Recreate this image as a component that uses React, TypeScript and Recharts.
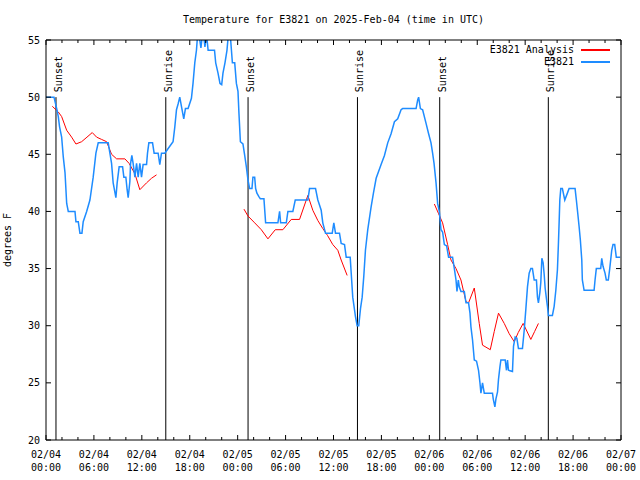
import React from 'react';
import { LineChart, Line, XAxis, YAxis, ReferenceLine, Legend } from 'recharts';

const FONT = '"DejaVu Sans Mono", monospace';

// hours since 2025-02-04 00:00 UTC
const obsHours = [
  0.0, 1.0, 1.34, 1.54, 1.7, 1.96, 2.16, 2.38, 2.59, 2.79, 3.63, 3.75, 4.04, 4.25, 4.5, 4.66, 5.09, 5.5, 5.91, 6.25,
  6.54, 7.79, 8.0, 8.21, 8.41, 8.75, 8.91, 9.16, 9.59, 9.75, 10.0, 10.16, 10.29, 10.5, 10.59, 10.75, 10.91, 11.13, 11.34, 11.54,
  11.75, 11.96, 12.16, 12.59, 12.71, 12.88, 13.34, 13.54, 14.04, 14.25, 14.46, 14.88, 15.5, 15.91, 16.13, 16.34, 16.54, 16.75, 16.96, 17.25,
  17.46, 17.79, 18.21, 18.41, 18.63, 18.84, 19.04, 19.4, 19.66, 19.9, 20.1, 20.3, 21.1, 21.25, 21.54, 21.79, 22.0, 22.16, 22.41, 22.66,
  22.9, 23.09, 23.34, 23.63, 23.84, 24.04, 24.16, 24.34, 24.66, 24.88, 25.09, 25.29, 25.5, 25.79, 25.91, 26.13, 26.25, 26.41, 26.66, 26.84,
  27.29, 27.5, 29.04, 29.25, 29.38, 30.09, 30.29, 30.91, 31.21, 32.79, 33.0, 33.75, 34.04, 34.46, 34.66, 35.0, 35.84, 36.04, 36.25, 36.75,
  36.96, 37.38, 37.59, 38.09, 38.41, 38.75, 38.96, 39.16, 39.38, 39.59, 39.79, 40.0, 40.29, 40.71, 41.0, 41.34, 41.96, 42.38, 42.79, 43.21,
  43.63, 44.04, 44.46, 44.66, 46.34, 46.54, 46.66, 46.88, 47.16, 47.59, 47.91, 48.21, 48.41, 48.59, 48.84, 49.04, 49.25, 49.46, 49.66, 49.88,
  50.16, 50.41, 50.91, 51.13, 51.34, 51.46, 51.63, 51.75, 51.96, 52.38, 52.59, 52.91, 53.09, 53.21, 53.41, 53.63, 53.91, 54.16, 54.34, 54.46,
  54.66, 54.88, 55.91, 56.0, 56.21, 56.34, 56.54, 56.66, 56.84, 56.96, 57.5, 57.66, 57.79, 57.91, 58.41, 58.54, 58.75, 58.96, 59.16, 59.66,
  59.88, 60.09, 60.29, 60.5, 60.71, 60.91, 61.13, 61.41, 61.54, 61.66, 61.84, 61.96, 62.09, 62.25, 62.38, 62.5, 62.66, 62.79, 62.91, 63.41,
  63.63, 63.84, 64.04, 64.16, 64.25, 64.34, 64.46, 64.66, 64.96, 65.29, 65.5, 66.25, 66.41, 66.59, 66.75, 66.91, 67.09, 67.16, 67.38, 68.63,
  68.75, 68.91, 69.46, 69.59, 69.75, 70.0, 70.16, 70.41, 70.59, 70.84, 71.0, 71.21, 71.41, 71.66, 71.9,
];
const obsTemps = [
  50.0, 50.0, 49.0, 48.3, 47.4, 46.5, 44.8, 43.4, 40.7, 40.0, 40.0, 39.1, 39.1, 38.1, 38.1, 39.1, 40.0, 41.0, 43.0, 45.1,
  46.0, 46.0, 45.1, 44.2, 42.5, 41.2, 42.5, 43.9, 43.9, 43.0, 43.0, 41.9, 41.2, 42.6, 44.2, 44.9, 44.2, 43.0, 44.2, 43.0,
  44.2, 43.0, 44.1, 44.1, 45.1, 46.0, 46.0, 45.1, 45.1, 44.1, 45.1, 45.1, 45.7, 46.1, 47.4, 48.9, 49.4, 50.0, 49.2, 48.1,
  49.0, 49.0, 49.9, 51.2, 53.0, 54.1, 56.0, 54.3, 56.0, 54.4, 55.5, 54.1, 54.1, 53.0, 52.1, 51.2, 51.1, 52.1, 53.0, 54.1,
  56.0, 55.3, 53.0, 53.0, 51.2, 50.5, 48.6, 46.1, 45.9, 44.9, 43.9, 42.75, 42.0, 42.0, 43.0, 43.0, 42.0, 41.6, 41.3, 41.1,
  41.1, 39.0, 39.0, 40.0, 39.0, 39.0, 40.0, 40.0, 41.0, 41.0, 42.0, 42.0, 41.0, 40.1, 39.0, 38.1, 38.1, 39.0, 38.1, 38.1,
  37.2, 37.1, 36.0, 36.0, 32.5, 30.8, 30.0, 30.0, 31.5, 32.5, 34.3, 36.6, 38.4, 40.4, 41.6, 42.9, 44.1, 44.9, 46.0, 46.8,
  47.85, 48.1, 48.9, 49.0, 49.0, 49.75, 50.0, 49.0, 48.9, 47.7, 46.8, 46.0, 45.1, 44.2, 42.5, 40.7, 40.0, 38.4, 38.2, 37.1,
  37.0, 36.0, 36.0, 35.0, 34.0, 33.0, 34.0, 33.4, 33.0, 33.0, 32.0, 32.0, 31.1, 29.9, 28.75, 27.0, 26.9, 26.1, 25.0, 24.1,
  25.0, 24.1, 24.1, 23.6, 22.9, 23.6, 24.2, 25.3, 26.4, 27.0, 27.0, 26.1, 27.0, 26.1, 26.0, 28.2, 29.0, 28.9, 28.0, 28.0,
  29.6, 31.5, 33.4, 34.6, 35.0, 35.0, 34.0, 34.0, 32.5, 32.0, 32.9, 33.8, 35.9, 35.5, 34.5, 33.3, 32.4, 31.7, 30.9, 30.9,
  31.7, 33.1, 34.9, 37.1, 39.0, 41.0, 42.0, 42.0, 41.0, 41.6, 42.0, 42.0, 41.0, 39.8, 38.7, 37.5, 35.75, 34.0, 33.1, 33.1,
  34.0, 35.0, 35.0, 35.9, 35.2, 34.6, 34.0, 34.0, 35.0, 36.6, 37.1, 37.1, 36.0, 36.0, 36.0,
];

// analysis series, null = gap between runs
const anaHours = [
  0.79, 1.54, 1.96, 2.59, 3.21, 3.75, 4.46, 5.13, 5.79, 6.34, 6.96, 7.59, 8.21, 8.84, 9.88, 10.41, 11.13, 11.75, 12.59, 13.21, 13.84,
  18,
  24.79, 25.29, 26.13, 26.96, 27.79, 28.71, 29.66, 30.71, 31.75, 32.79, 33.41, 34.04, 34.66, 35.25, 35.91, 36.54, 36.96, 37.71,
  43,
  48.63, 49.16, 49.66, 50.29, 50.71, 51.34, 51.96, 52.59, 52.91, 53.63, 53.84, 54.25, 54.66, 55.63, 56.13, 56.66, 57.38, 58.0, 58.63, 59.13,
  59.75, 60.71, 61.19, 61.66,
];
const anaTemps = [
  49.2, 48.7, 48.3, 47.1, 46.5, 45.9, 46.1, 46.5, 46.9, 46.5, 46.3, 46.1, 45.0, 44.6, 44.6, 44.2, 43.3, 41.9, 42.5, 42.9, 43.2,
  null,
  40.2, 39.6, 39.0, 38.4, 37.6, 38.4, 38.4, 39.3, 39.3, 41.4, 40.1, 39.2, 38.5, 37.9, 37.1, 36.6, 35.75, 34.4,
  null,
  40.65, 39.8, 39.0, 37.1, 35.75, 35.0, 34.0, 32.1, 32.0, 33.3, 32.25, 30.2, 28.3, 27.9, 29.5, 31.1, 30.2, 29.3, 28.6, 29.4,
  30.2, 28.8, 29.5, 30.2,
];

const sunsetHours = [1.25, 25.3, 49.3];
const sunriseHours = [15.0, 39.0, 62.9];

const xTicks = [0, 2, 4, 6, 8, 10, 12, 14, 16, 18, 20, 22, 24, 26, 28, 30, 32, 34, 36, 38, 40, 42, 44, 46, 48, 50, 52, 54, 56, 58, 60, 62, 64, 66, 68, 70, 72];
const yTicks = [20, 25, 30, 35, 40, 45, 50, 55];
const dayLabels = ['02/04', '02/05', '02/06', '02/07'];
const legendOrder = ['E3821 Analysis', 'E3821'];

const obsData = obsHours.map((h, i) => ({ h, t: obsTemps[i] }));
const anaData = anaHours.map((h, i) => ({ h, t: anaTemps[i] }));

const txt = { fontFamily: FONT, fontSize: 10, fill: '#000' };

const BottomTick = ({ x, y, payload }: any) => {
  const h = payload.value;
  const major = h % 6 === 0;
  return (
    <g>
      <line x1={x} x2={x} y1={y} y2={y - (major ? 5 : 3)} stroke="#000" />
      {major && (
        <text x={x} y={y} textAnchor="middle" {...txt}>
          <tspan x={x} dy={18}>{dayLabels[Math.floor(h / 24)]}</tspan>
          <tspan x={x} dy={13}>{String(h % 24).padStart(2, '0')}:00</tspan>
        </text>
      )}
    </g>
  );
};

const TopTick = ({ x, y, payload }: any) => {
  const major = payload.value % 6 === 0;
  return <line x1={x} x2={x} y1={y} y2={y + (major ? 5 : 3)} stroke="#000" />;
};

const LeftTick = ({ x, y, payload }: any) => (
  <g>
    <line x1={x} x2={x + 5} y1={y} y2={y} stroke="#000" />
    <text x={x - 6} y={y} dy="0.35em" textAnchor="end" {...txt}>{payload.value}</text>
  </g>
);

const RightTick = ({ x, y }: any) => <line x1={x} x2={x - 5} y1={y} y2={y} stroke="#000" />;

const sunLabel = (text: string) => (props: any) => {
  const vb = props.viewBox;
  const x = vb.x + 6;
  const y = vb.y - 5;
  return (
    <text x={x} y={y} transform={`rotate(-90 ${x} ${y})`} textAnchor="start" {...txt}>{text}</text>
  );
};

const renderLegend = (props: any) => {
  const items = (props.payload || [])
    .filter((p: any) => legendOrder.includes(p.value))
    .sort((a: any, b: any) => legendOrder.indexOf(a.value) - legendOrder.indexOf(b.value));
  return (
    <div style={{ position: 'relative', width: 200, height: 24, fontFamily: FONT, fontSize: 10 }}>
      {items.map((p: any, i: number) => (
        <React.Fragment key={p.value}>
          <div style={{ position: 'absolute', right: 46, top: i * 12, lineHeight: '12px', whiteSpace: 'nowrap', color: '#000' }}>
            {p.value}
          </div>
          <div style={{ position: 'absolute', left: 161, width: 29, top: i * 12 + 5, height: 1.5, background: p.color }} />
        </React.Fragment>
      ))}
    </div>
  );
};

const App: React.FC = () => (
  <div style={{ position: 'absolute', left: 0, top: 0, width: 640, height: 480, background: '#fff' }}>
    <div style={{ position: 'absolute', top: 14, left: 0, width: 667, textAlign: 'center', fontFamily: FONT, fontSize: 10, lineHeight: '12px' }}>
      Temperature for E3821 on 2025-Feb-04 (time in UTC)
    </div>
    <LineChart width={640} height={480} margin={{ top: 39, right: 18, left: 0, bottom: 0 }}>
      <XAxis
        dataKey="h"
        type="number"
        domain={[0, 72]}
        ticks={xTicks}
        interval={0}
        allowDataOverflow
        height={40}
        tickSize={0}
        tickMargin={0}
        tick={BottomTick}
        axisLine={{ stroke: '#000' }}
      />
      {/* mirrored frame axes: 1px so they still render */}
      <XAxis
        xAxisId="top"
        dataKey="h"
        orientation="top"
        type="number"
        domain={[0, 72]}
        ticks={xTicks}
        interval={0}
        allowDataOverflow
        height={1}
        tickSize={0}
        tickMargin={0}
        tick={TopTick}
        axisLine={{ stroke: '#000' }}
      />
      <YAxis
        type="number"
        domain={[20, 55]}
        ticks={yTicks}
        interval={0}
        allowDataOverflow
        width={46}
        tickSize={0}
        tickMargin={0}
        tick={LeftTick}
        axisLine={{ stroke: '#000' }}
        label={() => (
          <text x={11} y={240} transform="rotate(-90 11 240)" textAnchor="middle" {...txt}>degrees F</text>
        )}
      />
      <YAxis
        yAxisId="right"
        orientation="right"
        type="number"
        domain={[20, 55]}
        ticks={yTicks}
        interval={0}
        allowDataOverflow
        width={1}
        tickSize={0}
        tickMargin={0}
        tick={RightTick}
        axisLine={{ stroke: '#000' }}
      />
      {sunsetHours.map((h) => (
        <ReferenceLine key={`ss-${h}`} segment={[{ x: h, y: 50 }, { x: h, y: 20 }]} stroke="#000" label={sunLabel('Sunset')} />
      ))}
      {sunriseHours.map((h) => (
        <ReferenceLine key={`sr-${h}`} segment={[{ x: h, y: 50 }, { x: h, y: 20 }]} stroke="#000" label={sunLabel('Sunrise')} />
      ))}
      <Line
        xAxisId="top"
        yAxisId="right"
        data={obsData}
        dataKey="t"
        name="frame"
        stroke="none"
        legendType="none"
        dot={false}
        activeDot={false}
        isAnimationActive={false}
      />
      <Line
        data={anaData}
        dataKey="t"
        name="E3821 Analysis"
        stroke="#ff0000"
        strokeWidth={1}
        dot={false}
        activeDot={false}
        connectNulls={false}
        isAnimationActive={false}
      />
      <Line
        data={obsData}
        dataKey="t"
        name="E3821"
        stroke="#1e8cff"
        strokeWidth={1.5}
        dot={false}
        activeDot={false}
        isAnimationActive={false}
      />
      <Legend
        layout="horizontal"
        verticalAlign="middle"
        align="center"
        content={renderLegend}
        wrapperStyle={{ top: 44, left: 420, width: 200 }}
      />
    </LineChart>
  </div>
);

export default App;
